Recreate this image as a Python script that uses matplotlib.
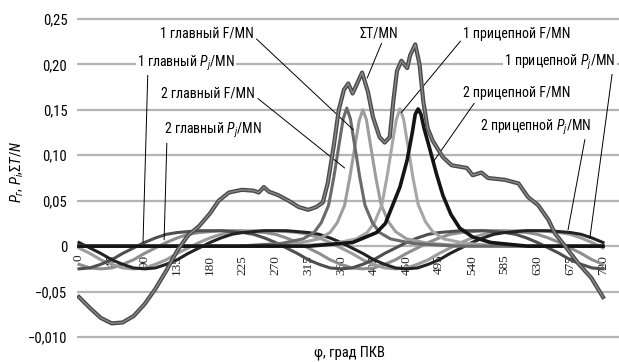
import numpy as np
import matplotlib
matplotlib.use("Agg")
import matplotlib.pyplot as plt
from matplotlib import font_manager

# pick a narrow sans font if one is installed
installed = {f.name for f in font_manager.fontManager.ttflist}
narrow = "DejaVu Sans"
for name in ["Liberation Sans Narrow", "DejaVu Sans Condensed", "Roboto Condensed", "Liberation Sans"]:
    if name in installed:
        narrow = name
        break

plt.rcParams["font.family"] = [narrow, "DejaVu Sans"]
plt.rcParams["mathtext.fontset"] = "custom"
plt.rcParams["mathtext.rm"] = narrow
plt.rcParams["mathtext.it"] = narrow + ":italic"

# crank angle grid of the inertia force curves, deg
phi = np.arange(0, 721, 15)

# inertia forces P_j, MN
pj_1gl = [-0.025, -0.024, -0.020, -0.015, -0.008, -0.002, 0.004, 0.009, 0.013, 0.015, 0.016, 0.017, 0.017,
          0.017, 0.016, 0.015, 0.013, 0.009, 0.004, -0.002, -0.008, -0.015, -0.020, -0.024,
          -0.025, -0.024, -0.020, -0.015, -0.008, -0.002, 0.004, 0.009, 0.013, 0.015, 0.016, 0.017, 0.017,
          0.017, 0.016, 0.015, 0.013, 0.009, 0.004, -0.002, -0.008, -0.015, -0.020, -0.024, -0.025]
pj_2gl = [-0.020, -0.024, -0.025, -0.024, -0.020, -0.015, -0.008, -0.002, 0.004, 0.009, 0.013, 0.015,
          0.016, 0.017, 0.017, 0.017, 0.016, 0.015, 0.013, 0.009, 0.004, -0.002, -0.008, -0.015,
          -0.020, -0.024, -0.025, -0.024, -0.020, -0.015, -0.008, -0.002, 0.004, 0.009, 0.013, 0.015,
          0.016, 0.017, 0.017, 0.017, 0.016, 0.015, 0.013, 0.009, 0.004, -0.002, -0.008, -0.015, -0.020]
pj_1pr = [0.004, -0.002, -0.008, -0.015, -0.020, -0.024, -0.025, -0.024, -0.020, -0.015, -0.008, -0.002,
          0.004, 0.009, 0.013, 0.015, 0.016, 0.017, 0.017, 0.017, 0.016, 0.015, 0.013, 0.009,
          0.004, -0.002, -0.008, -0.015, -0.020, -0.024, -0.025, -0.024, -0.020, -0.015, -0.008, -0.002,
          0.004, 0.009, 0.013, 0.015, 0.016, 0.017, 0.017, 0.017, 0.016, 0.015, 0.013, 0.009, 0.004]
pj_2pr = [-0.002, -0.008, -0.015, -0.020, -0.024, -0.025, -0.024, -0.020, -0.015, -0.008, -0.002, 0.004,
          0.009, 0.013, 0.015, 0.016, 0.017, 0.017, 0.017, 0.016, 0.015, 0.013, 0.009, 0.004,
          -0.002, -0.008, -0.015, -0.020, -0.024, -0.025, -0.024, -0.020, -0.015, -0.008, -0.002, 0.004,
          0.009, 0.013, 0.015, 0.016, 0.017, 0.017, 0.017, 0.016, 0.015, 0.013, 0.009, 0.004, -0.002]

# gas forces F, MN
f_1gl_x = [0, 218, 278, 308, 323, 333, 343, 350, 358, 363, 368, 373, 378, 386, 393, 403, 413, 428, 458, 518, 720]
f_1gl = [0.0, 0.0, 0.003, 0.008, 0.015, 0.026, 0.045, 0.075, 0.115, 0.14, 0.152, 0.14, 0.115, 0.075,
         0.045, 0.026, 0.015, 0.008, 0.003, 0.0, 0.0]
f_2gl_x = [0, 240, 300, 330, 345, 355, 365, 372, 380, 385, 390, 395, 400, 408, 415, 425, 435, 450, 480, 540, 720]
f_2gl = [0.0, 0.0, 0.003, 0.008, 0.015, 0.026, 0.045, 0.075, 0.114, 0.138, 0.150, 0.139, 0.114, 0.075,
         0.046, 0.027, 0.016, 0.008, 0.003, 0.0, 0.0]
f_1pr_x = [0, 291, 351, 381, 396, 406, 416, 423, 431, 436, 441, 446, 451, 459, 466, 476, 486, 501, 531, 591, 720]
f_1pr = [0.0, 0.0, 0.003, 0.008, 0.015, 0.026, 0.045, 0.075, 0.115, 0.139, 0.151, 0.14, 0.115, 0.075,
         0.046, 0.027, 0.016, 0.008, 0.003, 0.0, 0.0]
f_2pr_x = [0, 316, 376, 409, 421, 431, 441, 451, 458, 462, 466, 470, 474, 481, 486, 491, 500, 511, 523,
           541, 566, 616, 720]
f_2pr = [0.0, 0.0, 0.004, 0.015, 0.025, 0.045, 0.065, 0.095, 0.125, 0.145, 0.151, 0.145, 0.13, 0.11,
         0.095, 0.08, 0.056, 0.035, 0.02, 0.01, 0.004, 0.0, 0.0]

# total tangential force, MN
st_x = [0, 15, 30, 45, 60, 75, 90, 105, 120, 135, 150, 165, 180, 192, 206, 224, 240, 247, 254, 261,
        274, 288, 302, 315, 326, 335, 342, 350, 357, 364, 370, 376, 389, 397, 404, 413, 420, 427, 432,
        437, 443, 451, 455, 462, 468, 473, 479, 486, 500, 512, 533, 541, 553, 562, 585, 604, 617, 631,
        645, 654, 668, 686, 704, 720]
st = [-0.056, -0.068, -0.079, -0.085, -0.084, -0.077, -0.064, -0.047, -0.027, -0.005, 0.012, 0.022,
      0.036, 0.05, 0.059, 0.062, 0.061, 0.059, 0.065, 0.06, 0.056, 0.05, 0.043, 0.04, 0.043, 0.048,
      0.07, 0.11, 0.15, 0.172, 0.179, 0.168, 0.191, 0.17, 0.142, 0.12, 0.114, 0.12, 0.16, 0.193,
      0.204, 0.196, 0.21, 0.222, 0.2, 0.16, 0.13, 0.116, 0.098, 0.089, 0.086, 0.078, 0.081, 0.075,
      0.073, 0.069, 0.054, 0.045, 0.029, 0.014, 0.0, -0.019, -0.035, -0.056]

x_ticks = [0, 45, 90, 135, 180, 225, 270, 315, 360, 405, 450, 495, 540, 585, 630, 675, 720]
y_ticks = [-0.10, -0.05, 0, 0.05, 0.10, 0.15, 0.20, 0.25]
y_labels = ["\u22120,010", "\u22120,05", "0", "0,05", "0,10", "0,15", "0,20", "0,25"]

fig = plt.figure(figsize=(6.19, 3.62), dpi=100)
ax = fig.add_axes([77 / 619, 0.0565, 542 / 619, 0.9036])
ax.set_xlim(-2.7, 742)
ax.set_ylim(-0.105, 0.255)

for s in ax.spines.values():
    s.set_visible(False)
ax.set_xticks([])
ax.set_yticks(y_ticks)
ax.set_yticklabels(y_labels, fontsize=10.5)
ax.tick_params(axis="y", length=0, pad=7)
ax.yaxis.grid(True, color="#b4b4b4", lw=1.6)
ax.set_axisbelow(True)

# category labels drawn inside the plot, under the curves
for t in x_ticks:
    ax.text(t, -0.0095, str(t), rotation=90, ha="center", va="top", fontsize=9.5,
            family="Liberation Serif", color="#222222", zorder=1)

lw = 2.2
ax.plot(phi, pj_2gl, color="#8e8e8e", lw=lw, zorder=2)
ax.plot(phi, pj_2pr, color="#9c9c9c", lw=lw, zorder=2)
ax.plot(phi, pj_1gl, color="#4f4f4f", lw=lw, zorder=2)
ax.plot(phi, pj_1pr, color="#222222", lw=lw, zorder=2)
ax.plot(f_2gl_x, f_2gl, color="#9d9d9d", lw=lw, zorder=3)
ax.plot(f_1pr_x, f_1pr, color="#a6a6a6", lw=lw, zorder=3)
ax.plot(f_1gl_x, f_1gl, color="#6a6a6a", lw=lw, zorder=3)
ax.plot(f_2pr_x, f_2pr, color="#141414", lw=lw + 0.4, zorder=3)
ax.plot(st_x, st, color="#4a4a4a", lw=3.0, zorder=4)
ax.plot(st_x, st, color="#8a8a8a", lw=1.0, zorder=4)

lead = dict(arrowstyle="-", lw=0.7, color="black", shrinkA=0, shrinkB=0)
fs = 10
ax.annotate("1 главный F/MN", xy=(377, 0.128), xytext=(240, 0.234), ha="right", va="center",
            fontsize=fs, arrowprops=dict(lead, relpos=(1, 0.3)))
ax.annotate("2 главный F/MN", xy=(365, 0.086), xytext=(242, 0.168), ha="right", va="center",
            fontsize=fs, arrowprops=dict(lead, relpos=(1, 0.3)))
ax.annotate("1 главный $P_j$/MN", xy=(88, 0.004), xytext=(147, 0.201), ha="center", va="center",
            fontsize=fs, bbox=dict(fc="white", ec="none", pad=1),
            arrowprops=dict(lead, relpos=(0.11, 0)))
ax.annotate("2 главный $P_j$/MN", xy=(117, 0.007), xytext=(184, 0.127), ha="center", va="center",
            fontsize=fs, arrowprops=dict(lead, relpos=(0.03, 0)))
ax.annotate("\u03a3T/MN", xy=(396, 0.185), xytext=(412, 0.234), ha="center", va="center",
            fontsize=fs, arrowprops=dict(lead, relpos=(0.6, 0)))
ax.annotate("1 прицепной F/MN", xy=(443, 0.147), xytext=(528, 0.234), ha="left", va="center",
            fontsize=fs, arrowprops=dict(lead, relpos=(0, 0.2)))
ax.annotate("2 прицепной F/MN", xy=(487, 0.093), xytext=(528, 0.168), ha="left", va="center",
            fontsize=fs, arrowprops=dict(lead, relpos=(0.12, 0)))
ax.annotate("1 прицепной $P_j$/MN", xy=(702, 0.009), xytext=(661, 0.202), ha="center", va="center",
            fontsize=fs, bbox=dict(fc="white", ec="none", pad=1),
            arrowprops=dict(lead, relpos=(0.97, 0)))
ax.annotate("2 прицепной $P_j$/MN", xy=(672, 0.018), xytext=(627, 0.131), ha="center", va="center",
            fontsize=fs, arrowprops=dict(lead, relpos=(0.95, 0)))

fig.text(17 / 619, 1 - 172 / 362, "$P_г$, $P_i$,$\\Sigma T/N$", rotation=90, ha="center", va="center",
         fontsize=10.5)
fig.text(349 / 619, 1 - 353 / 362, "\u03c6, град ПКВ", ha="center", va="center", fontsize=10.5)

fig.savefig("out.png", dpi=100)
